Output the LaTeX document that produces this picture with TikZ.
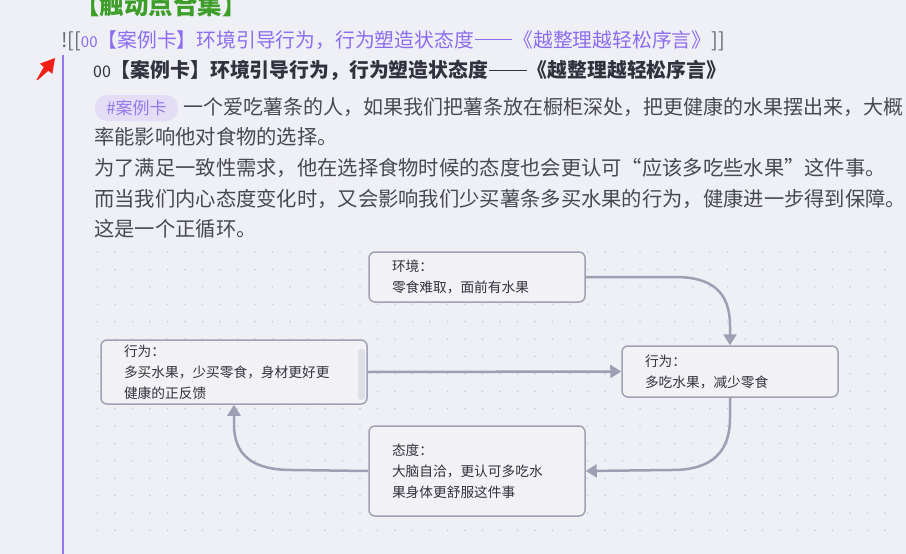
\documentclass[tikz,border=0pt]{standalone}
\usepackage{fontspec}
\setmainfont{Noto Sans CJK SC}
\usetikzlibrary{arrows.meta}
\definecolor{bgc}{RGB}{239,240,245}
\definecolor{greenc}{RGB}{62,158,42}
\definecolor{linkc}{RGB}{140,108,240}
\definecolor{greyc}{RGB}{100,100,112}
\definecolor{headc}{RGB}{50,50,62}
\definecolor{bodyc}{RGB}{72,72,84}
\definecolor{tagfill}{RGB}{227,222,246}
\definecolor{tagtext}{RGB}{150,120,235}
\definecolor{vlinec}{RGB}{150,120,245}
\definecolor{boxline}{RGB}{160,161,180}
\definecolor{boxfill}{RGB}{241,241,246}
\definecolor{boxtext}{RGB}{50,50,60}
\definecolor{connc}{RGB}{158,159,178}
\definecolor{dotc}{RGB}{202,203,213}
\definecolor{redc}{RGB}{240,30,20}
\definecolor{scrollc}{RGB}{222,222,230}
\newcommand{\cjkdash}{\makebox[2em][c]{\rule[0.33em]{1.9em}{0.065em}}}
\tikzset{
  txt/.style={anchor=base west, inner sep=0pt},
  bodytxt/.style={txt, text=bodyc, font=\fontsize{20.3}{24}\selectfont},
  card/.style={draw=boxline, line width=1.5pt, fill=boxfill, rounded corners=6pt,
    inner sep=0pt, align=left, text=boxtext, font=\fontsize{13.7}{21}\selectfont},
  conn/.style={draw=connc, line width=2.5pt, -{Triangle[length=11pt,width=13pt]}}
}
\begin{document}
\begin{tikzpicture}[x=1pt,y=-1pt]
\useasboundingbox (0,0) rectangle (906,554);
\fill[bgc] (0,0) rectangle (906,554);

% title and link line
\node[txt, text=greenc, font=\fontsize{24.5}{28}\selectfont\bfseries] (title) at (75,14.5) {【触动点合集】};
\node[txt, font=\fontsize{19.8}{23}\selectfont] (link) at (61,47)
  {\textcolor{greyc}{![[}\textcolor{linkc}{{\fontsize{15}{18}\selectfont 00}【案例卡】环境引导行为，行为塑造状态度\cjkdash《越整理越轻松序言》}\textcolor{greyc}{]]}};

% red arrow
\fill[redc] (55,58) -- (52.3,73.9) -- (48.4,70.7) -- (37.4,80.3) -- (36.6,79.7) -- (43.8,66.9) -- (39.9,63.7) -- cycle;

% purple vertical line
\draw[vlinec, line width=2pt] (63,55) -- (63,554);

% heading
\node[txt, text=headc, font=\fontsize{19.85}{23}\selectfont\bfseries] (head) at (93,77.6)
  {{\fontsize{16}{18}\selectfont\mdseries 00}【案例卡】环境引导行为，行为塑造状态度\cjkdash《越整理越轻松序言》};

% tag pill
\node[fill=tagfill, rounded corners=12pt, minimum height=26pt, minimum width=83pt, inner sep=0pt,
  text=tagtext, font=\fontsize{17}{20}\selectfont] (tag) at (136.5,108) {\#案例卡};

% body text
\node[bodytxt, font=\fontsize{20}{24}\selectfont] (b1) at (183,114.6) {一个爱吃薯条的人，如果我们把薯条放在橱柜深处，把更健康的水果摆出来，大概};
\node[bodytxt] (b2) at (94,144.8) {率能影响他对食物的选择。};
\node[bodytxt] (b3) at (94,175.6) {为了满足一致性需求，他在选择食物时候的态度也会更认可“应该多吃些水果”这件事。};
\node[bodytxt] (b4) at (94,206.6) {而当我们内心态度变化时，又会影响我们少买薯条多买水果的行为，健康进一步得到保障。};
\node[bodytxt] (b5) at (94,236.8) {这是一个正循环。};

% dot grid
\foreach \i in {0,...,45} {
  \foreach \j in {0,...,16} {
    \fill[dotc] (97.5+17.5*\i, 252+17.4*\j) circle[radius=0.9pt];
  }
}

% cards
\node[card, minimum width=216pt, minimum height=50pt, text width=170pt] (env) at (477,277)
  {环境：\\零食难取，面前有水果};
\node[card, minimum width=216pt, minimum height=51pt, text width=170pt] (actR) at (730,371.5)
  {行为：\\多吃水果，减少零食};
\node[card, minimum width=266pt, minimum height=64pt, text width=220pt] (actL) at (234,372)
  {行为：\\多买水果，少买零食，身材更好更\\健康的正反馈};
\node[card, minimum width=216pt, minimum height=90pt, text width=170pt] (att) at (477,471)
  {态度：\\大脑自洽，更认可多吃水\\果身体更舒服这件事};
\fill[scrollc, rounded corners=3pt] (358,349) rectangle (365,400);

% connectors
\coordinate (k1) at (675,277);
\coordinate (k2) at (730,326);
\draw[conn] (env.east) -- (k1) .. controls (712,277) and (730,292) .. (k2) -- (actR.north);

\draw[conn] (actL.east) -- (actR.west);

\coordinate (k3) at (730,418);
\coordinate (k4) at (672,470);
\draw[conn] (actR.south) -- (k3) .. controls (730,452) and (712,470) .. (k4) -- (att.east);

\coordinate (k5) at (292,470);
\coordinate (k6) at (234,424);
\draw[conn] (att.west) -- (k5) .. controls (252,470) and (234,455) .. (k6) -- (actL.south);
\end{tikzpicture}
\end{document}
